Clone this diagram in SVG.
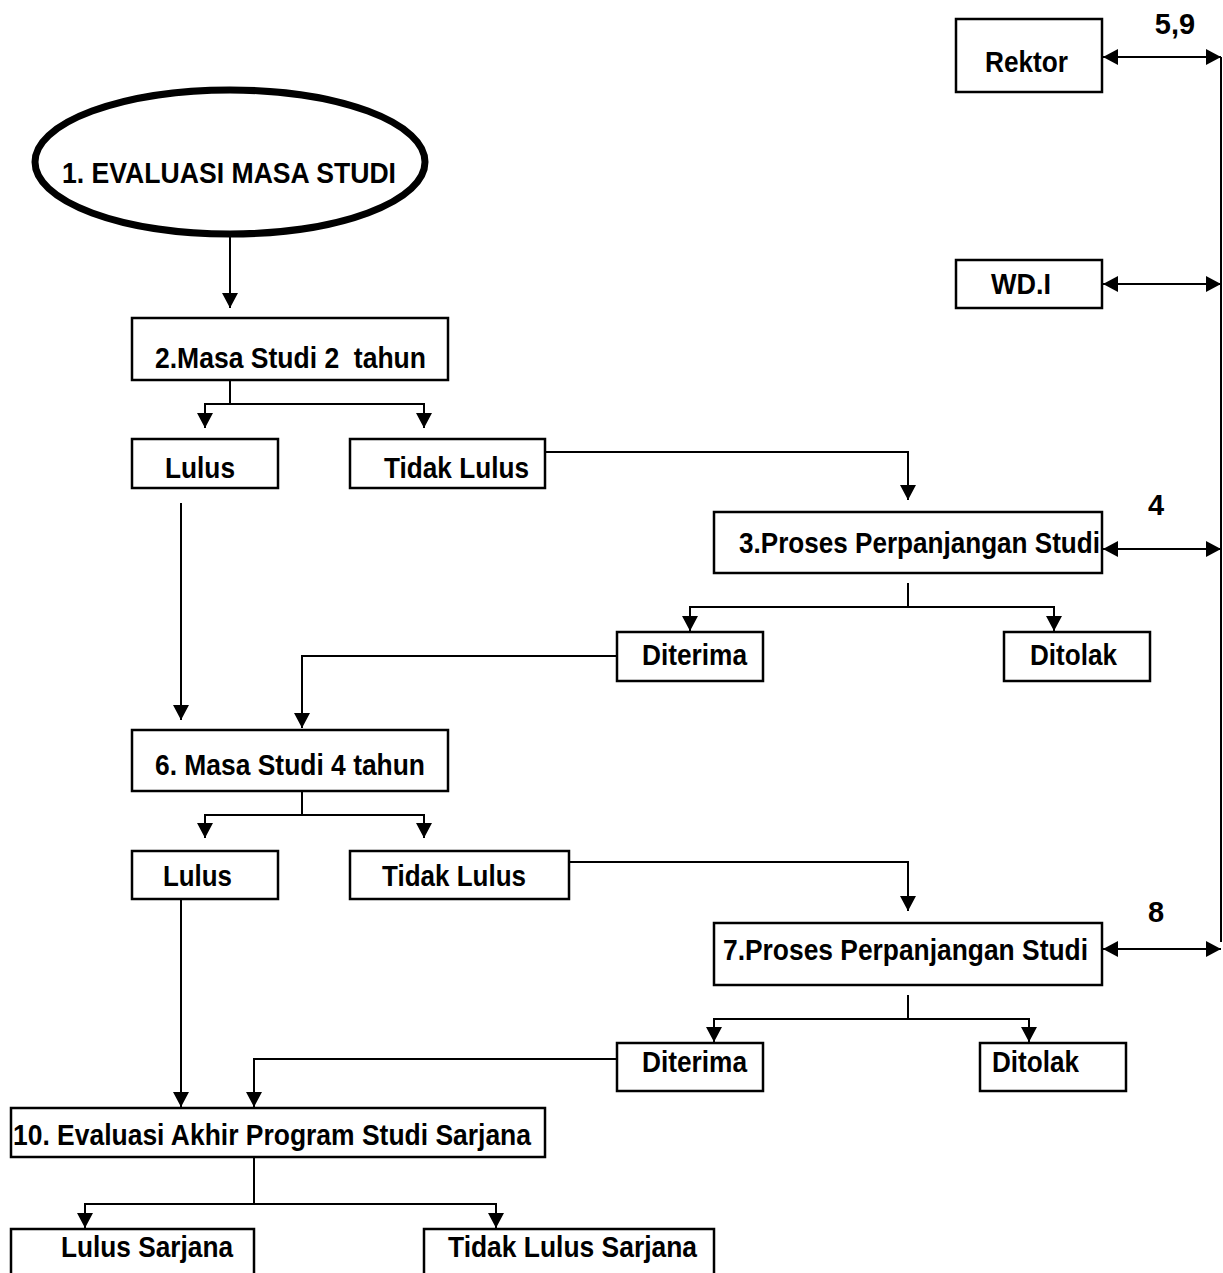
<svg xmlns="http://www.w3.org/2000/svg" width="1223" height="1273" viewBox="0 0 1223 1273">
<defs>
<marker id="ah" viewBox="0 0 10 10" refX="10" refY="5" markerUnits="userSpaceOnUse" markerWidth="15" markerHeight="16" preserveAspectRatio="none" orient="auto-start-reverse">
<path d="M0,0 L10,5 L0,10 z" fill="#000"/>
</marker>
<style>
.b{fill:#fff;stroke:#000;stroke-width:2.5}
.t{font-family:"Liberation Sans Narrow","Liberation Sans",Arial,sans-serif;font-weight:bold;font-size:29px;fill:#000}
.c{fill:none;stroke:#000;stroke-width:2}
.a{marker-end:url(#ah)}
.d{marker-start:url(#ah);marker-end:url(#ah)}
</style>
</defs>
<rect width="1223" height="1273" fill="#fff"/>

<g id="connectors">
<line class="c" x1="1221" y1="57" x2="1221" y2="942"/>
<line class="c d" x1="1103" y1="57" x2="1221" y2="57"/>
<line class="c d" x1="1103" y1="284" x2="1221" y2="284"/>
<line class="c d" x1="1103" y1="549" x2="1221" y2="549"/>
<line class="c d" x1="1103" y1="949" x2="1221" y2="949"/>
<line class="c a" x1="230" y1="236" x2="230" y2="308"/>
<polyline class="c" points="230,380 230,404"/>
<polyline class="c a" points="230,404 205,404 205,428"/>
<polyline class="c a" points="230,404 424,404 424,428"/>
<polyline class="c a" points="545,452 908,452 908,500"/>
<polyline class="c" points="908,583 908,607"/>
<polyline class="c a" points="908,607 690,607 690,631"/>
<polyline class="c a" points="908,607 1054,607 1054,631"/>
<polyline class="c a" points="617,656 302,656 302,728"/>
<line class="c a" x1="181" y1="503" x2="181" y2="720"/>
<polyline class="c" points="302,791 302,815"/>
<polyline class="c a" points="302,815 205,815 205,838"/>
<polyline class="c a" points="302,815 424,815 424,838"/>
<polyline class="c a" points="569,862 908,862 908,911"/>
<polyline class="c" points="908,995 908,1019"/>
<polyline class="c a" points="908,1019 714,1019 714,1042"/>
<polyline class="c a" points="908,1019 1029,1019 1029,1042"/>
<polyline class="c a" points="617,1059 254,1059 254,1107"/>
<line class="c a" x1="181" y1="892" x2="181" y2="1107"/>
<polyline class="c" points="254,1157 254,1204"/>
<polyline class="c a" points="254,1204 85,1204 85,1228"/>
<polyline class="c a" points="254,1204 496,1204 496,1228"/>
</g>

<g id="label-59"><text class="t" x="1175" y="34" text-anchor="middle" font-size="27">5,9</text></g>
<g id="label-4"><text class="t" x="1156" y="515" text-anchor="middle" font-size="27">4</text></g>
<g id="label-8"><text class="t" x="1156" y="922" text-anchor="middle" font-size="27">8</text></g>

<g id="rektor"><rect class="b" x="956" y="19" width="146" height="73"/><text class="t" x="985" y="72" textLength="83" lengthAdjust="spacingAndGlyphs">Rektor</text></g>
<g id="wd1"><rect class="b" x="956" y="260" width="146" height="48"/><text class="t" x="991" y="294" textLength="60" lengthAdjust="spacingAndGlyphs">WD.I</text></g>

<g id="n1"><ellipse cx="230" cy="162" rx="195" ry="72" fill="#fff" stroke="#000" stroke-width="7"/><text class="t" x="62" y="183" font-size="28" textLength="334" lengthAdjust="spacingAndGlyphs">1. EVALUASI MASA STUDI</text></g>

<g id="n2"><rect class="b" x="132" y="318" width="316" height="62"/><text class="t" x="155" y="368" textLength="271" lengthAdjust="spacingAndGlyphs" xml:space="preserve">2.Masa Studi 2  tahun</text></g>
<g id="lulus1"><rect class="b" x="132" y="439" width="146" height="49"/><text class="t" x="165" y="478" textLength="70" lengthAdjust="spacingAndGlyphs">Lulus</text></g>
<g id="tidak1"><rect class="b" x="350" y="439" width="195" height="49"/><text class="t" x="384" y="478" textLength="145" lengthAdjust="spacingAndGlyphs">Tidak Lulus</text></g>

<g id="n3"><rect class="b" x="714" y="512" width="388" height="61"/><text class="t" x="739" y="553" textLength="361" lengthAdjust="spacingAndGlyphs">3.Proses Perpanjangan Studi</text></g>
<g id="diterima1"><rect class="b" x="617" y="632" width="146" height="49"/><text class="t" x="642" y="665" textLength="105" lengthAdjust="spacingAndGlyphs">Diterima</text></g>
<g id="ditolak1"><rect class="b" x="1004" y="632" width="146" height="49"/><text class="t" x="1030" y="665" textLength="87" lengthAdjust="spacingAndGlyphs">Ditolak</text></g>

<g id="n6"><rect class="b" x="132" y="730" width="316" height="61"/><text class="t" x="155" y="775" textLength="270" lengthAdjust="spacingAndGlyphs">6. Masa Studi 4 tahun</text></g>
<g id="lulus2"><rect class="b" x="132" y="851" width="146" height="48"/><text class="t" x="163" y="886" textLength="69" lengthAdjust="spacingAndGlyphs">Lulus</text></g>
<g id="tidak2"><rect class="b" x="350" y="851" width="219" height="48"/><text class="t" x="382" y="886" textLength="144" lengthAdjust="spacingAndGlyphs">Tidak Lulus</text></g>

<g id="n7"><rect class="b" x="714" y="923" width="388" height="62"/><text class="t" x="723" y="960" textLength="365" lengthAdjust="spacingAndGlyphs">7.Proses Perpanjangan Studi</text></g>
<g id="diterima2"><rect class="b" x="617" y="1043" width="146" height="48"/><text class="t" x="642" y="1072" textLength="105" lengthAdjust="spacingAndGlyphs">Diterima</text></g>
<g id="ditolak2"><rect class="b" x="980" y="1043" width="146" height="48"/><text class="t" x="992" y="1072" textLength="87" lengthAdjust="spacingAndGlyphs">Ditolak</text></g>

<g id="n10"><rect class="b" x="11" y="1108" width="534" height="49"/><text class="t" x="13" y="1145" textLength="518" lengthAdjust="spacingAndGlyphs">10. Evaluasi Akhir Program Studi Sarjana</text></g>
<g id="lulus-sarjana"><rect class="b" x="11" y="1229" width="243" height="60"/><text class="t" x="61" y="1257" textLength="172" lengthAdjust="spacingAndGlyphs">Lulus Sarjana</text></g>
<g id="tidak-sarjana"><rect class="b" x="424" y="1229" width="290" height="60"/><text class="t" x="448" y="1257" textLength="249" lengthAdjust="spacingAndGlyphs">Tidak Lulus Sarjana</text></g>
</svg>
